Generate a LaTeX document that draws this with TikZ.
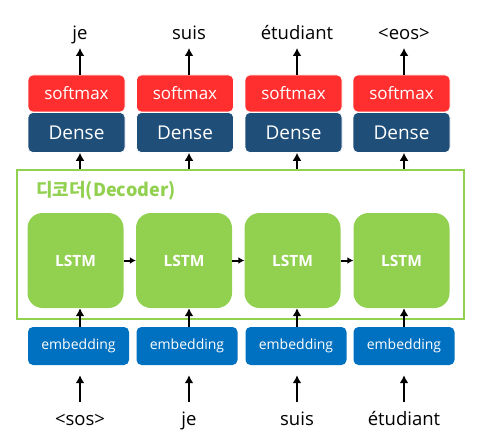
\documentclass[tikz,border=0pt]{standalone}
\usepackage{fontspec}
\setmainfont{Open Sans}
\newfontfamily\krfont{Noto Sans CJK KR}
\usetikzlibrary{arrows.meta}
\definecolor{smred}{HTML}{FF2F2F}
\definecolor{densebl}{HTML}{1F4E79}
\definecolor{lgreen}{HTML}{92D050}
\definecolor{embbl}{HTML}{0070C0}
\tikzset{
  smbox/.style={fill=smred, draw=white, line width=0.6pt, rounded corners=5pt, minimum width=97pt, minimum height=37pt, text=white, font=\fontsize{17}{17}\selectfont, inner sep=0pt},
  densebox/.style={fill=densebl, draw=white, line width=0.6pt, rounded corners=5pt, minimum width=97pt, minimum height=40pt, text=white, font=\fontsize{19}{19}\selectfont, inner sep=0pt},
  lstmbox/.style={fill=lgreen, rounded corners=15pt, minimum width=96pt, minimum height=95pt, text=white, font=\fontsize{15.5}{15.5}\selectfont\bfseries, inner sep=0pt},
  embbox/.style={fill=embbl, rounded corners=5pt, minimum width=101pt, minimum height=38pt, text=white, font=\fontsize{14}{14}\selectfont, inner sep=0pt},
  wordlbl/.style={font=\fontsize{18.5}{18.5}\selectfont, inner sep=0pt, anchor=base},
  arr/.style={line width=2.6pt, -{Latex[length=8pt,width=9pt]}},
  sarr/.style={line width=2pt, -{Latex[length=6pt,width=7pt]}},
  framebox/.style={draw=lgreen, line width=2.4pt, minimum width=447pt, minimum height=149pt, anchor=north west, inner sep=0pt},
}
\begin{document}
\begin{tikzpicture}[x=1pt,y=-1pt]
\useasboundingbox (0,0) rectangle (478,438);
% frame
\node[framebox] (frame) at (16,169) {};
\node[anchor=west, text=lgreen, font=\krfont\bfseries\fontsize{18}{18}\selectfont, inner sep=0pt] (declbl) at (36,191) {디코더(Decoder)};
% columns
\foreach \i/\bx/\ax/\lx/\ex/\top/\bot in {1/76.5/80/75.5/78.5/je/{<sos>},2/185/189/184/187/suis/je,3/293.5/297/292.5/296/étudiant/suis,4/401.5/404/401.5/404/{<eos>}/étudiant}{
  \coordinate (a\i) at (\ax,0);
  \node[smbox] (s\i) at (\bx,93.5) {softmax};
  \node[densebox] (d\i) at (\bx,132.5) {Dense};
  \node[lstmbox] (l\i) at (\lx,260.5) {LSTM};
  \node[embbox] (e\i) at (\ex,346) {embedding};
  \node[wordlbl] (t\i) at (\ax,40) {\top};
  \node[wordlbl] (b\i) at (\ax,425) {\bot};
  \coordinate (tt\i) at (\ax,48);
  \coordinate (bt\i) at (\ax,402);
  \draw[arr] (s\i.north -| a\i) -- (tt\i);
  \draw[arr] (frame.north -| a\i) -- (d\i.south -| a\i);
  \draw[arr] (e\i.north -| a\i) -- (l\i.south -| a\i);
  \draw[arr, shorten >=10pt] (bt\i) -- (e\i.south -| a\i);
}
\draw[sarr] (l1.east) -- (l2.west);
\draw[sarr] (l2.east) -- (l3.west);
\draw[sarr] (l3.east) -- (l4.west);
\end{tikzpicture}
\end{document}
